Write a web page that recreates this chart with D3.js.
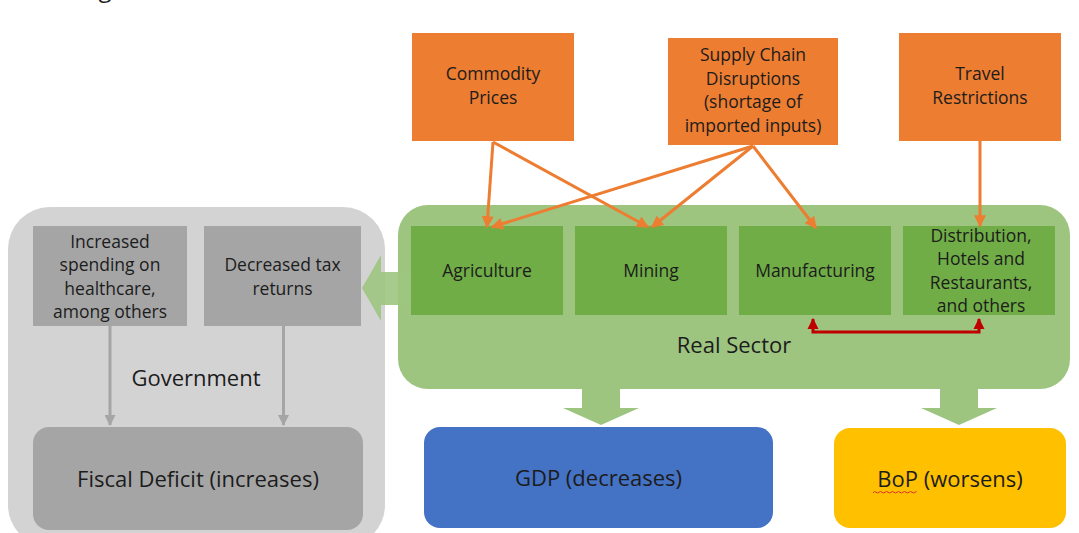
<!DOCTYPE html>
<html><head><meta charset="utf-8">
<script src="https://cdn.jsdelivr.net/npm/d3@7"></script>
<style>body{margin:0;background:#fff}svg{display:block}text{font-family:"Open Sans","Noto Sans",sans-serif;fill:#1c1c1c}</style>
</head><body><svg id="c" width="1079" height="533"></svg>
<script>
// ---- data ----
const drivers = ["Commodity Prices", "Supply Chain Disruptions (shortage of imported inputs)", "Travel Restrictions"];
const driverLines = [["Commodity", "Prices"], ["Supply Chain", "Disruptions", "(shortage of", "imported inputs)"], ["Travel", "Restrictions"]];
const sectors = ["Agriculture", "Mining", "Manufacturing", "Distribution, Hotels and Restaurants, and others"];
const sectorLines = [["Agriculture"], ["Mining"], ["Manufacturing"], ["Distribution,", "Hotels and", "Restaurants,", "and others"]];
const govItems = ["Increased spending on healthcare, among others", "Decreased tax returns"];
const govLines = [["Increased", "spending on", "healthcare,", "among others"], ["Decreased tax", "returns"]];
const outcomes = ["Fiscal Deficit (increases)", "GDP (decreases)", "BoP (worsens)"];
const links = [[0, 0], [0, 1], [1, 0], [1, 1], [1, 2], [2, 3]]; // driver -> sector
const groupTitles = ["Government", "Real Sector"];

// ---- layout ----
const svg = d3.select("#c");
const C = {orange: "#ed7d31", green: "#70ad47", greenPanel: "#9dc580", grayPanel: "#d3d3d3", gray: "#a5a5a5", blue: "#4472c4", gold: "#ffc000", red: "#c00000"};
const FS = 17.5, FL = 22;

// partial header text clipped at top
svg.append("text").attr("x", 80).attr("y", -3).attr("font-size", 24).text("Figure");

const defs = svg.append("defs");
function marker(id, color, w, h, orient) {
  defs.append("marker").attr("id", id).attr("viewBox", "0 0 10 10").attr("refX", 9).attr("refY", 5)
    .attr("markerWidth", w).attr("markerHeight", h).attr("markerUnits", "userSpaceOnUse").attr("orient", orient || "auto")
    .append("path").attr("d", "M0,0L10,5L0,10z").attr("fill", color);
}
marker("mo", C.orange, 13, 12);
marker("mg", C.gray, 12, 11);
marker("mr", C.red, 11, 13, "auto-start-reverse");

function lines(g, arr, cx, cy, size, lh) {
  const n = arr.length;
  g.selectAll(null).data(arr).join("text")
    .attr("x", cx).attr("y", (d, i) => cy + (i - (n - 1) / 2) * lh)
    .attr("dy", "0.35em").attr("text-anchor", "middle").attr("font-size", size).text(d => d);
}

// panels
svg.append("rect").attr("x", 8).attr("y", 207).attr("width", 377).attr("height", 340).attr("rx", 42).attr("fill", C.grayPanel);
svg.append("rect").attr("x", 398).attr("y", 205).attr("width", 672).attr("height", 184).attr("rx", 30).attr("fill", C.greenPanel);

// sector boxes
const xs = d3.scaleBand().domain(sectors).range([411, 1055]).paddingInner(0.073);
const secTop = 226, secH = 89;
sectors.forEach((s, i) => {
  const g = svg.append("g");
  g.append("rect").attr("x", xs(s)).attr("y", secTop).attr("width", xs.bandwidth()).attr("height", secH).attr("fill", C.green);
  lines(g, sectorLines[i], xs(s) + xs.bandwidth() / 2 + (i === 3 ? 2 : 0), secTop + 45, FS, 23.5);
});

// big arrow into government
svg.append("path").attr("fill", C.greenPanel).attr("opacity", 0.9)
  .attr("d", "M411,272L381,272L381,255L362,288L381,321L381,305L411,305Z");

// government boxes
const xg = d3.scaleOrdinal().domain(govItems).range([[33, 154], [204, 157]]);
govItems.forEach((s, i) => {
  const [x, w] = xg(s);
  const g = svg.append("g");
  g.append("rect").attr("x", x).attr("y", 226).attr("width", w).attr("height", 100).attr("fill", C.gray);
  lines(g, govLines[i], x + w / 2, 277, FS, 23.5);
  svg.append("line").attr("x1", x + w / 2 + (i ? 1 : 0)).attr("x2", x + w / 2 + (i ? 1 : 0)).attr("y1", 326).attr("y2", 425)
    .attr("stroke", C.gray).attr("stroke-width", 3).attr("marker-end", "url(#mg)");
});

svg.append("text").attr("x", 196).attr("y", 378).attr("dy", "0.35em").attr("text-anchor", "middle").attr("font-size", FL).text(groupTitles[0]);
svg.append("text").attr("x", 734).attr("y", 345).attr("dy", "0.35em").attr("text-anchor", "middle").attr("font-size", FL).text(groupTitles[1]);

// outcome boxes
const outBoxes = [[33, 427, 330, 103, C.gray], [424, 427, 349, 101, C.blue], [834, 428, 232, 100, C.gold]];
outcomes.forEach((o, i) => {
  const [x, y, w, h, col] = outBoxes[i];
  svg.append("rect").attr("x", x).attr("y", y).attr("width", w).attr("height", h).attr("rx", 16).attr("fill", col);
  svg.append("text").attr("x", x + w / 2).attr("y", y + h / 2 + 1).attr("dy", "0.35em").attr("text-anchor", "middle").attr("font-size", FL).text(o);
});
// spelling squiggle under "BoP"
{
  let d = "M873,493";
  for (let x = 873; x < 916; x += 3) d += `L${x + 1.5},${(x - 873) / 3 % 2 ? 493 : 491.5}`;
  svg.append("path").attr("d", d).attr("fill", "none").attr("stroke", "#e03030").attr("stroke-width", 1);
}

// green down arrows
[601, 959].forEach(cx => {
  svg.append("path").attr("fill", C.greenPanel)
    .attr("d", `M${cx - 19},388L${cx - 19},408L${cx - 38},408L${cx},425L${cx + 38},408L${cx + 19},408L${cx + 19},388Z`);
});

// driver boxes
const driverBoxes = [[412, 33, 162, 108], [668, 38, 170, 107], [899, 33, 162, 108]];
drivers.forEach((d, i) => {
  const [x, y, w, h] = driverBoxes[i];
  const g = svg.append("g");
  g.append("rect").attr("x", x).attr("y", y).attr("width", w).attr("height", h).attr("fill", C.orange);
  lines(g, driverLines[i], x + w / 2, y + h / 2 - 1, FS, 23.5);
});

// driver -> sector arrows
const starts = [[493, 142], [753, 146], [980, 141]];
const ends = [[[487, 227], [648, 227]], [[492, 227], [652, 227], [816, 228]], [[980, 226]]];
const counts = [0, 0, 0];
links.forEach(([a, b]) => {
  const [x1, y1] = starts[a];
  const [x2, y2] = ends[a][counts[a]++];
  svg.append("line").attr("x1", x1).attr("y1", y1).attr("x2", x2).attr("y2", y2)
    .attr("stroke", C.orange).attr("stroke-width", 3).attr("marker-end", "url(#mo)");
});

// red double-headed connector between Manufacturing and Distribution
svg.append("path").attr("fill", "none").attr("stroke", C.red).attr("stroke-width", 3)
  .attr("d", "M813,319L813,332L979,332L979,319")
  .attr("marker-start", "url(#mr)").attr("marker-end", "url(#mr)");
</script></body></html>
